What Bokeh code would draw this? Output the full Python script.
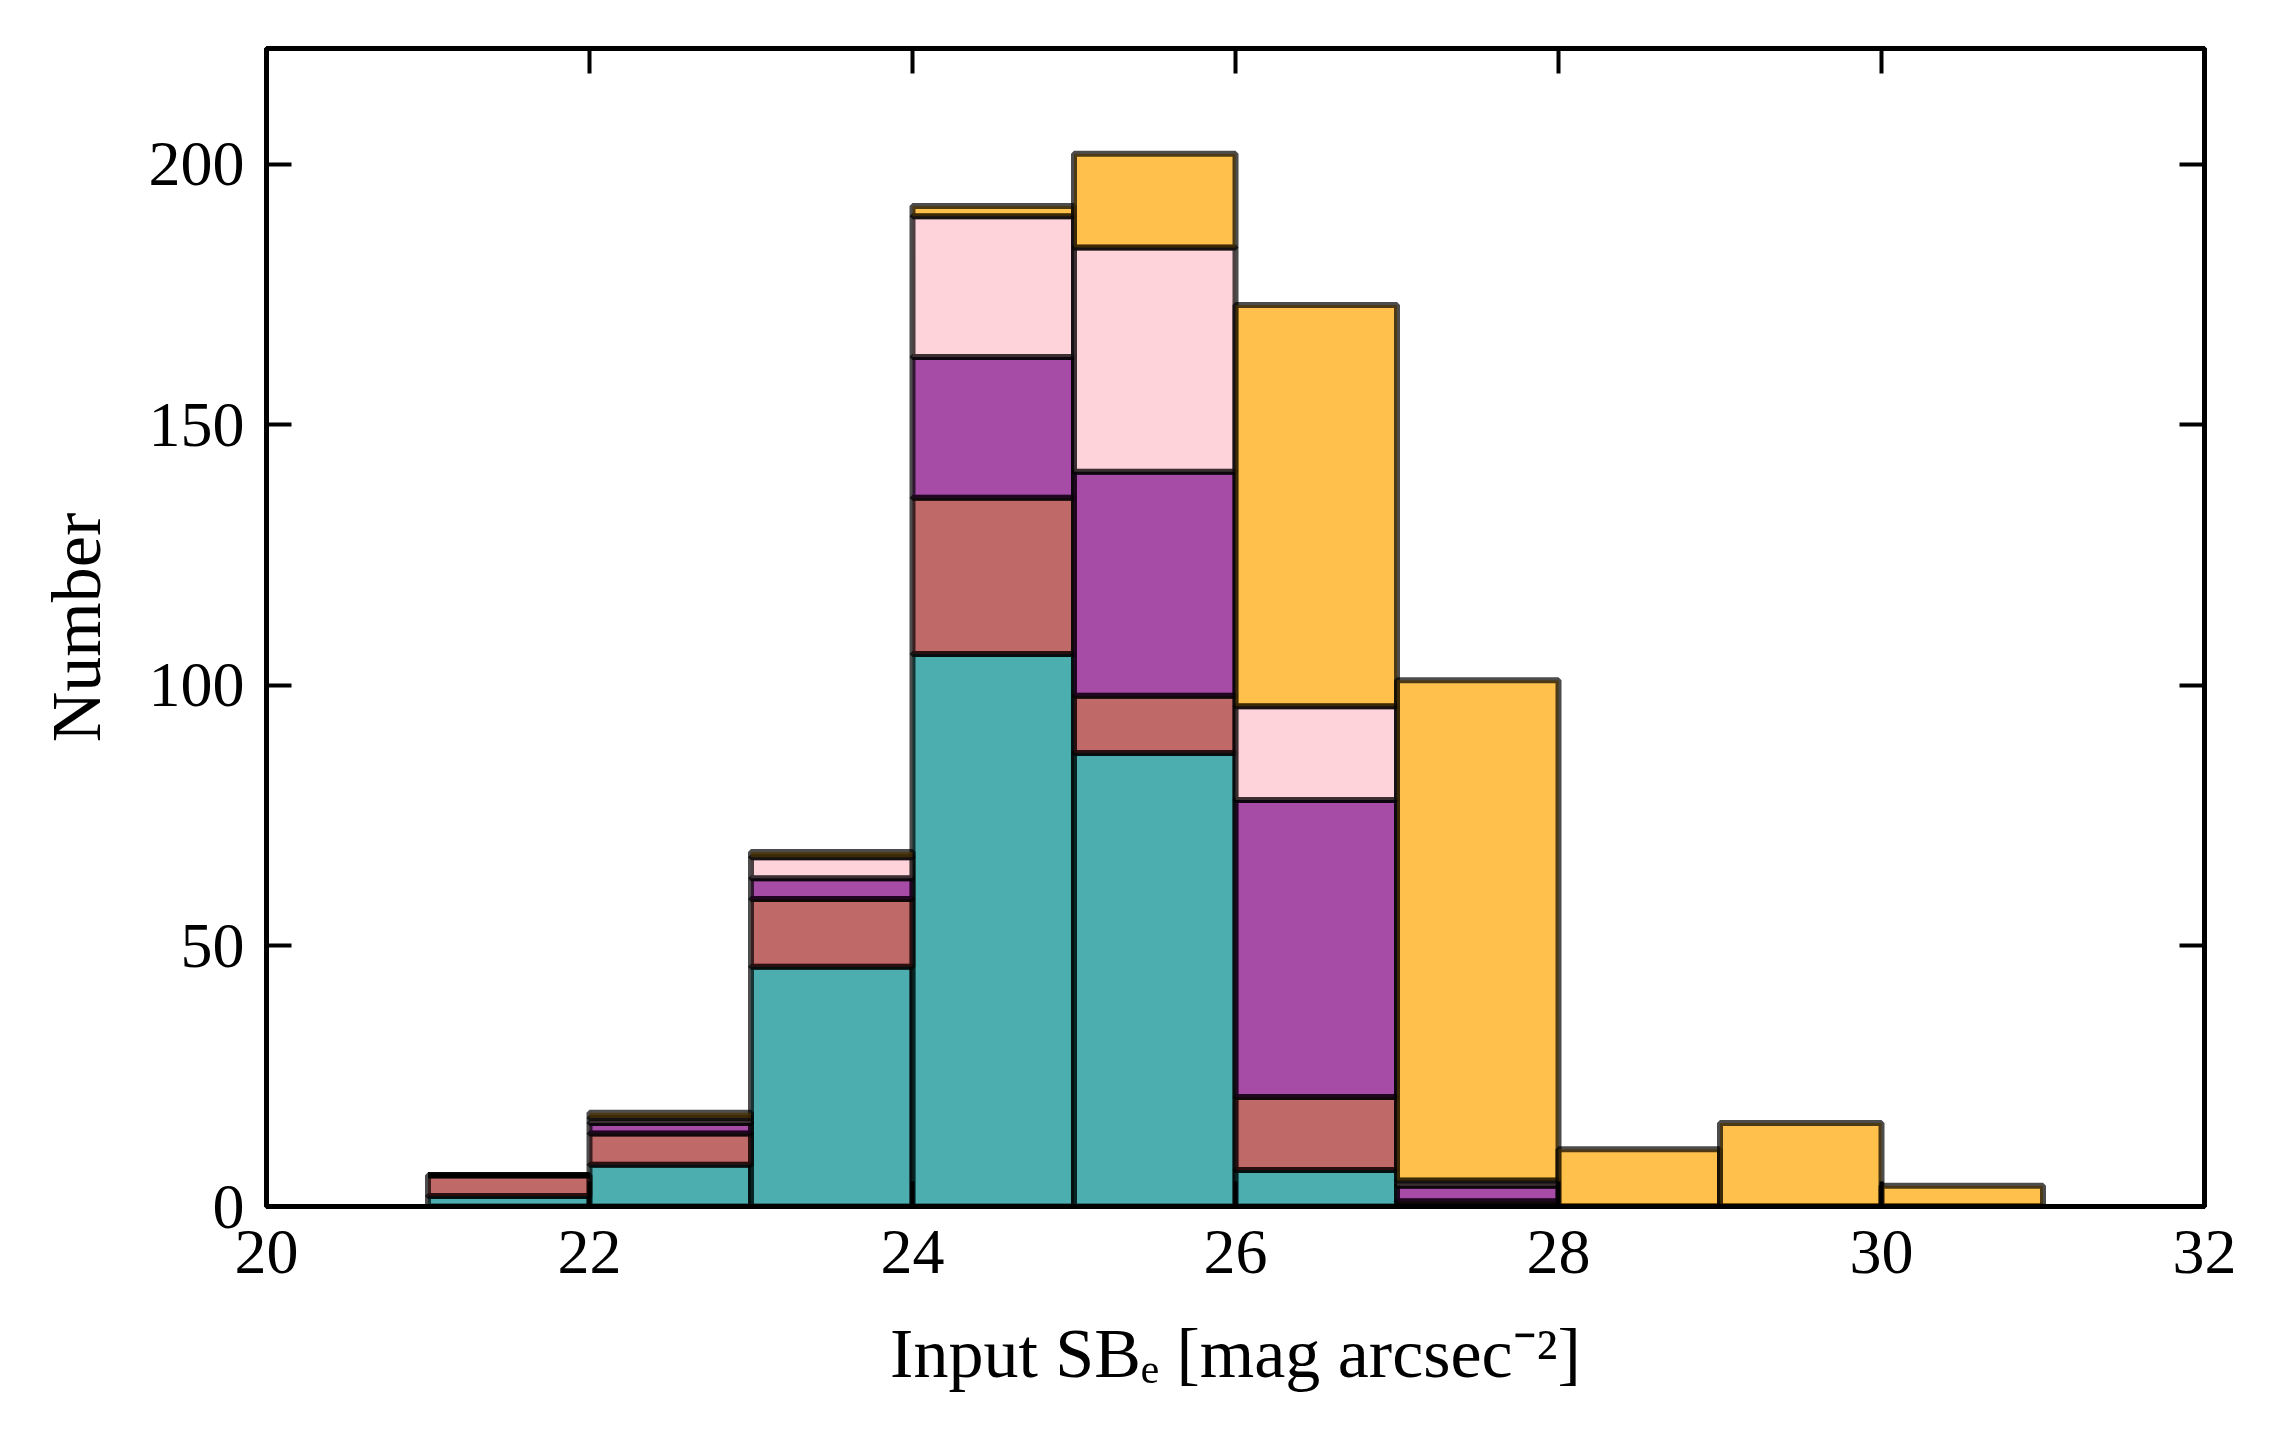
import numpy as np
from bokeh.plotting import figure
from bokeh.models import LinearAxis, FixedTicker, Range1d
from bokeh.embed import file_html
from bokeh.resources import INLINE

# histogram bins (Input SB_e, mag arcsec^-2)
bin_edges = [21, 22, 23, 24, 25, 26, 27, 28, 29, 30, 31]

# counts per bin, stacked bottom -> top
teal_counts = [2, 8, 46, 106, 87, 7, 0, 0, 0, 0]
brown_counts = [4, 6, 13, 30, 11, 14, 1, 0, 0, 0]
purple_counts = [0, 2, 4, 27, 43, 57, 3, 0, 0, 0]
pink_counts = [0, 1, 4, 27, 43, 18, 1, 0, 0, 0]
orange_counts = [0, 1, 1, 2, 18, 77, 96, 11, 16, 4]

series_colors = ["darkcyan", "brown", "purple", "pink", "orange"]

x_ticks = [20, 22, 24, 26, 28, 30, 32]
y_ticks = [0, 50, 100, 150, 200]

FONT = "Liberation Serif"

p = figure(width=2274, height=1427, x_range=Range1d(20, 32), y_range=Range1d(0, 222.2),
           output_backend="svg", toolbar_location=None,
           min_border_left=266, min_border_right=70, min_border_top=48, min_border_bottom=221)

left = np.array(bin_edges[:-1])
right = np.array(bin_edges[1:])
base = np.zeros(len(left))
for counts, color in zip([teal_counts, brown_counts, purple_counts, pink_counts, orange_counts], series_colors):
    top = base + np.array(counts)
    p.quad(left=left, right=right, bottom=base, top=top, fill_color=color, fill_alpha=0.7,
           line_color="black", line_alpha=0.7, line_width=6)
    base = top

p.xgrid.visible = False
p.ygrid.visible = False
p.outline_line_color = "black"
p.outline_line_width = 5
p.outline_line_alpha = 1.0
p.background_fill_color = "white"

p.xaxis.ticker = FixedTicker(ticks=x_ticks)
p.yaxis.ticker = FixedTicker(ticks=y_ticks)
p.xaxis.axis_label = "Input SBₑ [mag arcsec⁻²]"
p.yaxis.axis_label = "Number"

for ax in [p.xaxis[0], p.yaxis[0]]:
    ax.axis_line_width = 5
    ax.major_tick_in = 25
    ax.major_tick_out = 0
    ax.major_tick_line_width = 4
    ax.minor_tick_line_color = None
    ax.major_label_text_font = FONT
    ax.major_label_text_font_size = "64px"
    ax.major_label_text_color = "black"
    ax.axis_label_text_font = FONT
    ax.axis_label_text_font_size = "70px"
    ax.axis_label_text_font_style = "normal"
    ax.axis_label_text_color = "black"

p.xaxis.major_label_standoff = 24
p.yaxis.major_label_standoff = 22
p.xaxis.axis_label_standoff = 39
p.yaxis.axis_label_standoff = 31

# ticks on top and right, labels not drawn
top_axis = LinearAxis(ticker=FixedTicker(ticks=x_ticks))
right_axis = LinearAxis(ticker=FixedTicker(ticks=y_ticks))
for ax in [top_axis, right_axis]:
    ax.axis_line_width = 5
    ax.major_tick_in = 25
    ax.major_tick_out = 0
    ax.major_tick_line_width = 4
    ax.minor_tick_line_color = None
    ax.major_label_text_font_size = "1px"
    ax.major_label_text_color = None
    ax.major_label_standoff = 0
p.add_layout(top_axis, "above")
p.add_layout(right_axis, "right")

open("out.html", "w").write(file_html(p, INLINE))
